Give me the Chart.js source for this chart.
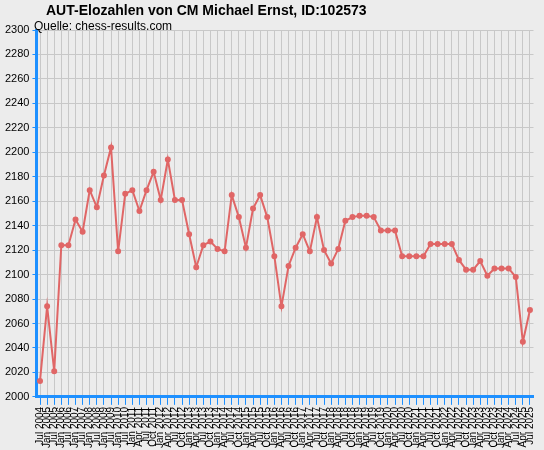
<!DOCTYPE html>
<html>
<head>
<meta charset="utf-8">
<script src="https://cdn.jsdelivr.net/npm/chart.js@4"></script>
<style>
  html, body { margin: 0; padding: 0; background: #ececec; }
  #wrap { position: relative; width: 544px; height: 450px; }
  #t1 { position: absolute; left: 46px; top: 2px; font: bold 14px "Liberation Sans", Arial, sans-serif; color: #000; }
  #t2 { position: absolute; left: 34px; top: 19px; font: 12px "Liberation Sans", Arial, sans-serif; color: #000; }
</style>
</head>
<body>
<div id="wrap">
  <canvas id="eloChart" width="544" height="450"></canvas>
  <div id="t1">AUT-Elozahlen von CM Michael Ernst, ID:102573</div>
  <div id="t2">Quelle: chess-results.com</div>
</div>
<script>
/* Daten */
const labels = [
  'Jul 2004','Jan 2005','Jul 2005','Jan 2006','Jul 2006','Jan 2007','Jul 2007',
  'Jan 2008','Jul 2008','Jan 2009','Jul 2009','Jan 2010','Jul 2010','Jan 2011',
  'Apr 2011','Jul 2011','Oct 2011','Jan 2012','Apr 2012','Jul 2012','Oct 2012',
  'Jan 2013','Apr 2013','Jul 2013','Oct 2013','Jan 2014','Apr 2014','Jul 2014','Oct 2014',
  'Jan 2015','Apr 2015','Jul 2015','Oct 2015','Jan 2016','Apr 2016','Jul 2016','Oct 2016',
  'Jan 2017','Apr 2017','Jul 2017','Oct 2017','Jan 2018','Apr 2018','Jul 2018','Oct 2018',
  'Jan 2019','Apr 2019','Jul 2019','Oct 2019','Jan 2020','Apr 2020','Jul 2020','Oct 2020',
  'Jan 2021','Apr 2021','Jul 2021','Oct 2021','Jan 2022','Apr 2022','Jul 2022','Oct 2022',
  'Jan 2023','Apr 2023','Jul 2023','Oct 2023','Jan 2024','Apr 2024','Jul 2024','Apr 2025','Jul 2025'
];
const elo = [
  2013, 2074, 2021, 2124, 2124, 2145, 2135, 2169, 2155, 2181,
  2204, 2119, 2166, 2169, 2152, 2169, 2184, 2161, 2194, 2161,
  2161, 2133, 2106, 2124, 2127, 2121, 2119, 2165, 2147, 2122,
  2154, 2165, 2147, 2115, 2074, 2107, 2122, 2133, 2119, 2147,
  2120, 2109, 2121, 2144, 2147, 2148, 2148, 2147, 2136, 2136,
  2136, 2115, 2115, 2115, 2115, 2125, 2125, 2125, 2125, 2112,
  2104, 2104, 2111, 2099, 2105, 2105, 2105, 2098, 2045, 2071
];
const yMin = 2000, yMax = 2300, yStep = 20;

const axisBlue = '#1e90ff';

new Chart(document.getElementById('eloChart'), {
  type: 'line',
  data: {
    labels,
    datasets: [{
      data: elo,
      borderColor: '#e06666',
      backgroundColor: '#e06666',
      borderWidth: 2,
      pointRadius: 2,
      pointHoverRadius: 3,
      tension: 0
    }]
  },
  options: {
    responsive: false,
    animation: false,
    layout: { padding: { top: 30, right: 6, left: 2, bottom: 0 } },
    plugins: { legend: { display: false }, tooltip: { enabled: false } },
    scales: {
      x: {
        offset: true,
        grid: { color: '#c8c8c8', tickColor: axisBlue, tickLength: 8, drawOnChartArea: true },
        border: { color: axisBlue, width: 3 },
        ticks: {
          autoSkip: false, maxRotation: 90, minRotation: 90,
          color: '#000', font: { size: 10, family: 'Liberation Sans' }, padding: 2
        }
      },
      y: {
        min: yMin, max: yMax,
        grid: { color: '#c8c8c8', tickColor: axisBlue, tickLength: 4 },
        border: { color: axisBlue, width: 3 },
        ticks: {
          stepSize: yStep, color: '#000', font: { size: 11, family: 'Liberation Sans' },
          callback: v => String(v)
        }
      }
    }
  }
});
</script>
</body>
</html>
